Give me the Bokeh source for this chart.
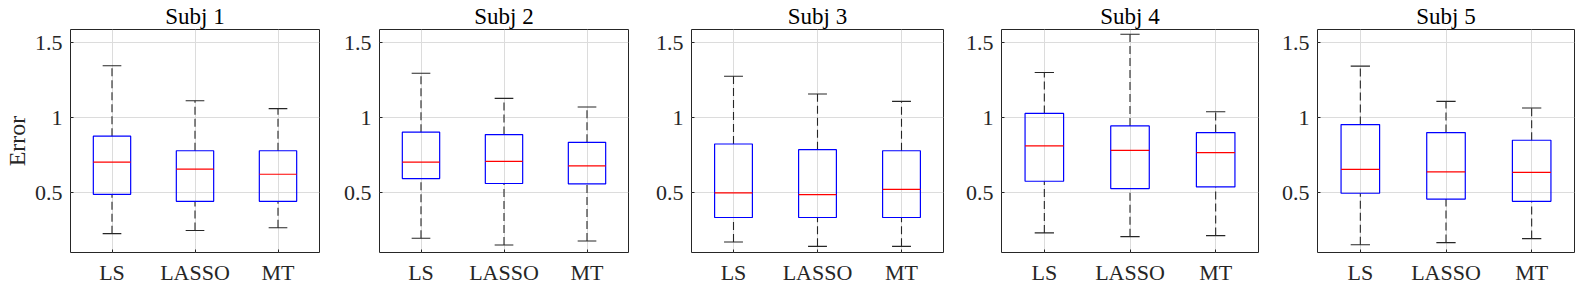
from bokeh.plotting import figure
from bokeh.layouts import row
from bokeh.models import FixedTicker, Range1d, ColumnDataSource
from bokeh.embed import file_html
from bokeh.resources import INLINE

# ---------------- data ----------------
subjects = ["Subj 1", "Subj 2", "Subj 3", "Subj 4", "Subj 5"]
methods = ["LS", "LASSO", "MT"]

whisker_low = [[0.226, 0.247, 0.265],
               [0.195, 0.150, 0.177],
               [0.170, 0.141, 0.141],
               [0.231, 0.206, 0.213],
               [0.152, 0.166, 0.193]]
q1 = [[0.489, 0.442, 0.442],
      [0.594, 0.561, 0.558],
      [0.334, 0.334, 0.334],
      [0.576, 0.527, 0.538],
      [0.496, 0.457, 0.442]]
median = [[0.704, 0.657, 0.623],
          [0.704, 0.709, 0.679],
          [0.498, 0.487, 0.522],
          [0.812, 0.783, 0.767],
          [0.655, 0.639, 0.635]]
q3 = [[0.877, 0.780, 0.780],
      [0.904, 0.888, 0.836],
      [0.825, 0.787, 0.780],
      [1.029, 0.946, 0.901],
      [0.955, 0.901, 0.850]]
whisker_high = [[1.348, 1.114, 1.061],
                [1.298, 1.130, 1.072],
                [1.278, 1.159, 1.110],
                [1.303, 1.558, 1.040],
                [1.345, 1.110, 1.065]]

y_ticks = [0.5, 1, 1.5]
y_tick_labels = ["0.5", "1", "1.5"]
y_label = "Error"

# ---------------- style / layout ----------------
FONT = "Liberation Serif, DejaVu Serif, serif"
AX_COL = "#262626"
GRID_COL = "#dcdcdc"
frame_widths = [249, 249, 252, 257, 257]
border_left = [64, 50, 50, 50, 50]
border_right = [10, 13, 8, 9, 8]
FRAME_H = 223
BOX_W = 0.45
CAP_W = 0.225

figs = []
for i, name in enumerate(subjects):
    xs = [k + 1 for k in range(len(methods))]
    src = ColumnDataSource(dict(
        x=xs,
        xl=[x - BOX_W / 2 for x in xs],
        xr=[x + BOX_W / 2 for x in xs],
        cl=[x - CAP_W / 2 for x in xs],
        cr=[x + CAP_W / 2 for x in xs],
        lo=whisker_low[i], q1=q1[i], med=median[i], q3=q3[i], hi=whisker_high[i],
    ))
    p = figure(frame_width=frame_widths[i], frame_height=FRAME_H,
               x_range=Range1d(0.5, 3.5), y_range=Range1d(0.1, 1.59),
               output_backend="svg", toolbar_location=None,
               min_border_left=border_left[i], min_border_right=border_right[i],
               min_border_top=0, min_border_bottom=0,
               title=name)
    p.title.align = "center"
    p.title.text_font = FONT
    p.title.text_font_size = "23px"
    p.title.text_font_style = "normal"
    p.title.text_color = "black"
    p.title.standoff = 2
    p.background_fill_color = "white"
    p.border_fill_color = "white"
    p.outline_line_color = AX_COL
    p.outline_line_width = 1
    p.outline_line_alpha = 1

    # axes
    p.xaxis.ticker = FixedTicker(ticks=xs)
    p.xaxis.major_label_overrides = {x: m for x, m in zip(xs, methods)}
    p.yaxis.ticker = FixedTicker(ticks=y_ticks)
    p.yaxis.major_label_overrides = {t: l for t, l in zip(y_ticks, y_tick_labels)}
    for ax in (p.xaxis, p.yaxis):
        ax.axis_line_color = None
        ax.major_tick_in = 3
        ax.major_tick_out = 0
        ax.major_tick_line_color = AX_COL
        ax.minor_tick_line_color = None
        ax.major_label_text_font = FONT
        ax.major_label_text_font_size = "22px"
        ax.major_label_text_color = AX_COL
    p.xaxis.major_label_standoff = 7
    p.yaxis.major_label_standoff = 8
    if i == 0:
        p.yaxis.axis_label = y_label
        p.yaxis.axis_label_text_font = FONT
        p.yaxis.axis_label_text_font_size = "24px"
        p.yaxis.axis_label_text_font_style = "normal"
        p.yaxis.axis_label_text_color = AX_COL
        p.yaxis.axis_label_standoff = 2

    # grid
    p.xgrid.ticker = FixedTicker(ticks=xs)
    p.ygrid.ticker = FixedTicker(ticks=y_ticks)
    for g in (p.xgrid, p.ygrid):
        g.grid_line_color = GRID_COL
        g.grid_line_width = 1

    # whiskers
    p.segment(x0="x", y0="q3", x1="x", y1="hi", source=src,
              line_color=AX_COL, line_width=1.1, line_dash="8 4")
    p.segment(x0="x", y0="lo", x1="x", y1="q1", source=src,
              line_color=AX_COL, line_width=1.1, line_dash="8 4")
    # caps
    p.segment(x0="cl", y0="hi", x1="cr", y1="hi", source=src,
              line_color=AX_COL, line_width=1.1)
    p.segment(x0="cl", y0="lo", x1="cr", y1="lo", source=src,
              line_color=AX_COL, line_width=1.1)
    # boxes
    p.quad(left="xl", right="xr", bottom="q1", top="q3", source=src,
           fill_alpha=0, line_color="#0000ff", line_width=1.2)
    # medians
    p.segment(x0="xl", y0="med", x1="xr", y1="med", source=src,
              line_color="#ff0000", line_width=1.2)
    figs.append(p)

layout = row(*figs, spacing=0)
open("out.html", "w").write(file_html(layout, INLINE))
